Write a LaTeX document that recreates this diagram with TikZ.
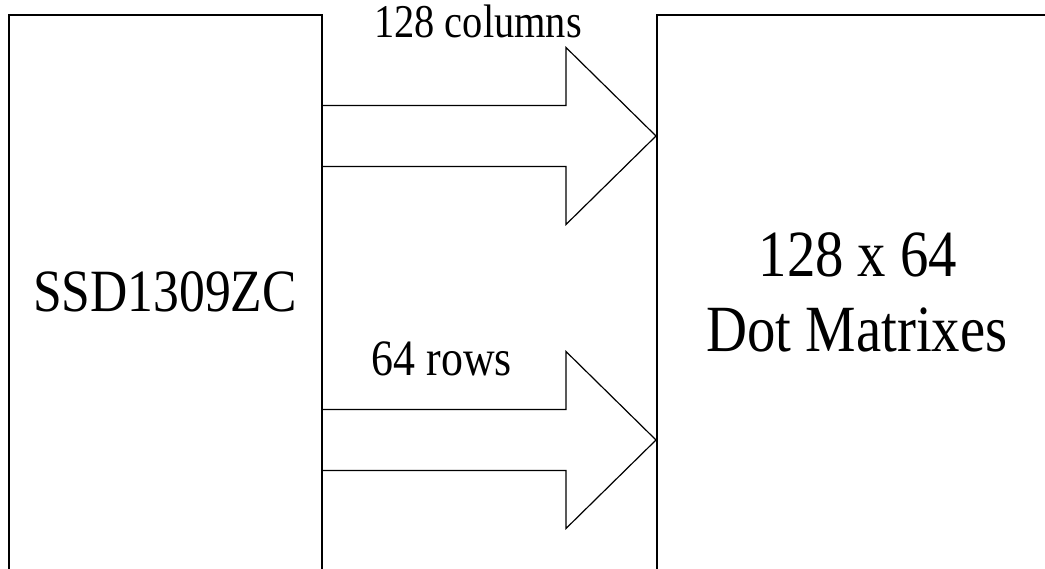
\documentclass[tikz,border=0pt]{standalone}
\usepackage{fontspec}
\setmainfont[FakeStretch=0.86]{Liberation Serif}
\tikzset{
    box/.style={draw, line width=2pt, inner sep=0pt},
    blockarrow/.style={draw, line width=1.2pt, line join=miter},
    lbl/.style={anchor=base, inner sep=0pt}
}
\begin{document}
\begin{tikzpicture}[x=1pt, y=-1pt]
    \useasboundingbox (0,0) rectangle (1045,569);
    \clip (0,0) rectangle (1045,569);

    \node [box, anchor=north west, minimum width=313pt, minimum height=600pt] (ctrl) at (8,14) {};
    \node [box, anchor=north west, minimum width=420pt, minimum height=600pt] (panel) at (656,14) {};

    \node [lbl, font=\fontsize{60}{72}\selectfont] (ctrlname) at (165,312) {SSD1309ZC};
    \node [lbl, font=\fontsize{66}{75}\selectfont] (matrixsize) at (858,277) {128 x 64};
    \node [lbl, font=\fontsize{66}{75}\selectfont] (matrixname) at (857,352) {Dot Matrixes};

    \foreach \y in {136, 440}
        \draw [blockarrow] (ctrl.east |- 0,\y-30.5) -- (566,\y-30.5) -- (566,\y-88.5)
            -- (panel.west |- 0,\y) -- (566,\y+88.5) -- (566,\y+30.5) -- (ctrl.east |- 0,\y+30.5);

    \node [lbl, font=\fontsize{47}{58}\selectfont] (collabel) at (478,38) {128 columns};
    \node [lbl, font=\fontsize{51}{60}\selectfont] (rowlabel) at (442,376) {64 rows};
\end{tikzpicture}
\end{document}
